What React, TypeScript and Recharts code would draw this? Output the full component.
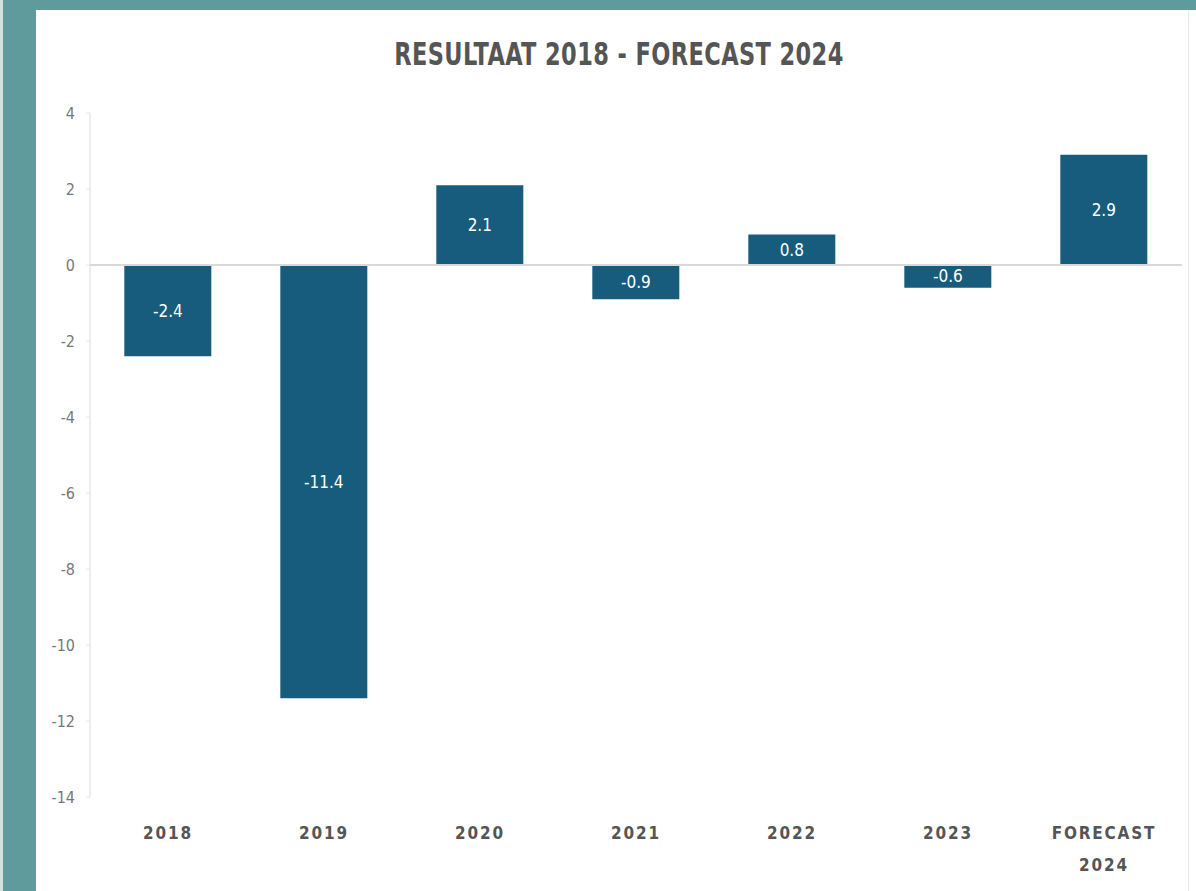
import { BarChart, Bar, XAxis, YAxis, ReferenceLine, LabelList } from "recharts";

const categories = ["2018", "2019", "2020", "2021", "2022", "2023", "FORECAST 2024"];
const results = [-2.4, -11.4, 2.1, -0.9, 0.8, -0.6, 2.9];
const yTicks = [4, 2, 0, -2, -4, -6, -8, -10, -12, -14];

const data = categories.map((name, i) => ({ name, value: results[i] }));

const FONT = "'DejaVu Sans Condensed', 'Liberation Sans Narrow', 'Roboto', sans-serif";
const BAR = "#175c7c";

function XTick({ x, y, payload }: any) {
  const words = String(payload.value).split(" ");
  return (
    <text x={x} y={y} textAnchor="middle" fill="#555" fontFamily={FONT} fontWeight="bold" fontSize={17} letterSpacing={1.8}>
      {words.map((w, i) => (
        <tspan key={i} x={x} dy={i === 0 ? 34 : 32}>{w}</tspan>
      ))}
    </text>
  );
}

export default function App() {
  return (
    <div style={{ position: "fixed", left: 0, top: 0, width: 1196, height: 891, background: "#5f9b9c", overflow: "hidden" }}>
      <div style={{ position: "absolute", left: 0, top: 0, width: 3, height: 891, background: "#d9dede" }} />
      <div style={{ position: "absolute", left: 36, top: 10, width: 1160, height: 881, background: "#fff" }}>
        <div style={{ position: "absolute", left: 1152, top: 0, width: 1, height: 881, background: "#e8e8e8" }} />
        <div
          style={{
            position: "absolute", left: 0, top: 29, width: 1166, textAlign: "center",
            fontFamily: FONT, fontWeight: "bold", fontSize: 25, color: "#555",
            letterSpacing: 0.4, transform: "scaleY(1.3)",
          }}
        >
          RESULTAAT 2018 - FORECAST 2024
        </div>
        <BarChart
          width={1152}
          height={881}
          data={data}
          margin={{ top: 103, right: 6, bottom: 34, left: 0 }}
          barCategoryGap="22%"
        >
          <YAxis
            width={54}
            domain={[-14, 4]}
            ticks={yTicks}
            interval={0}
            axisLine={{ stroke: "#dcdcdc" }}
            tickLine={{ stroke: "#e6e6e6" }}
            tickSize={4}
            tickMargin={11}
            tick={{ fill: "#777", fontSize: 16, fontFamily: FONT }}
          />
          <XAxis dataKey="name" height={60} axisLine={false} tickLine={false} interval={0} tick={<XTick />} />
          <ReferenceLine y={0} stroke="#d9d9d9" strokeWidth={2} />
          <Bar dataKey="value" fill={BAR} isAnimationActive={false}>
            <LabelList dataKey="value" position="center" fill="#fff" fontSize={17} fontFamily={FONT} />
          </Bar>
        </BarChart>
      </div>
    </div>
  );
}
